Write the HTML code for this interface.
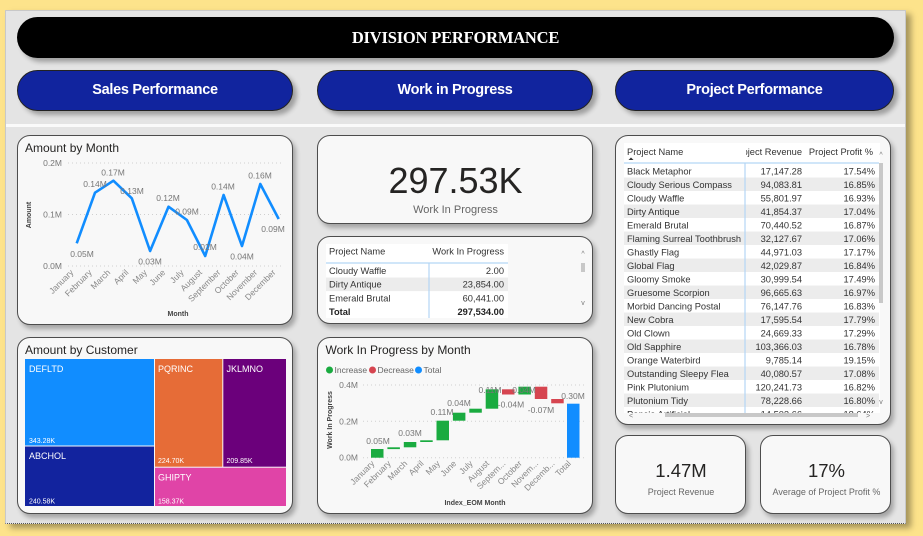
<!DOCTYPE html>
<html><head><meta charset="utf-8">
<style>
*{margin:0;padding:0;box-sizing:border-box}
body{width:923px;height:536px;background:#fde38b;position:relative;overflow:hidden;font-family:"Liberation Sans",sans-serif}
.panel{position:absolute;left:5px;top:10px;width:901px;height:514px;background:#e4e4e4;border:1px solid #c8c8c8;border-bottom:1px dotted #555;box-shadow:5px 4px 6px rgba(0,0,0,.35)}
.sep{position:absolute;left:6px;top:124px;width:899px;height:3px;background:#fafafa}
.title{position:absolute;left:17px;top:17px;width:877px;height:41px;background:#000;border-radius:21px;box-shadow:4px 4px 5px rgba(0,0,0,.3);color:#fff;font-family:"Liberation Serif",serif;font-weight:bold;font-size:16.5px;text-align:center;line-height:41px;letter-spacing:-0.2px}
.btn{position:absolute;top:70px;height:41px;background:#11249e;border:1px solid #222;border-radius:21px;box-shadow:4px 4px 5px rgba(0,0,0,.3);color:#fff;font-weight:bold;font-size:14.5px;text-align:center;line-height:39px;letter-spacing:-0.3px}
.card{position:absolute;background:#f8f8f8;border:1px solid #4d4d4d;border-radius:13px;box-shadow:3px 4px 5px rgba(0,0,0,.28)}
</style></head><body>
<div class="panel"></div>
<div class="sep"></div>
<div class="title">DIVISION PERFORMANCE</div>
<div class="btn" style="left:17px;width:276px">Sales Performance</div>
<div class="btn" style="left:317px;width:276px">Work in Progress</div>
<div class="btn" style="left:615px;width:279px">Project Performance</div>

<div class="card" style="left:17px;top:135px;width:276px;height:190px"></div>
<div class="card" style="left:17px;top:337px;width:276px;height:177px"></div>
<div class="card" style="left:317px;top:135px;width:276px;height:89px"></div>
<div class="card" style="left:317px;top:236px;width:276px;height:88px"></div>
<div class="card" style="left:317px;top:337px;width:276px;height:177px"></div>
<div class="card" style="left:615px;top:135px;width:276px;height:290px"></div>
<div class="card" style="left:615px;top:435px;width:131px;height:79px"></div>
<div class="card" style="left:760px;top:435px;width:131px;height:79px"></div>

<svg style="position:absolute;left:0;top:0" width="923" height="536" viewBox="0 0 923 536" font-family="Liberation Sans, sans-serif">
<defs>
<clipPath id="revclip"><rect x="746" y="140" width="58" height="20"/></clipPath>
<clipPath id="tblclip"><rect x="620" y="140" width="262" height="273"/></clipPath>
</defs>

<!-- Amount by Month -->
<text x="25" y="152" font-size="12" fill="#252423">Amount by Month</text>
<g stroke="#cfcfcf" stroke-dasharray="1,3" stroke-width="1">
<line x1="68" y1="163" x2="283" y2="163"/><line x1="68" y1="214.5" x2="283" y2="214.5"/><line x1="68" y1="266" x2="283" y2="266"/>
</g>
<g font-size="8.5" fill="#777" text-anchor="end">
<text x="62" y="166">0.2M</text><text x="62" y="217.5">0.1M</text><text x="62" y="269">0.0M</text>
</g>
<text transform="translate(31,215) rotate(-90)" font-size="7" font-weight="bold" fill="#444" text-anchor="middle">Amount</text>
<polyline fill="none" stroke="#118dff" stroke-width="2.6" stroke-linejoin="round" points="76.7,243.3 95,192.7 113.4,180.7 131.8,198.3 150.1,251 168.5,206.7 186.9,220 205.2,256 223.6,195 242,246 260.3,184 278.7,219"/>
<g font-size="8.5" fill="#777" text-anchor="middle">
<text x="82" y="257">0.05M</text><text x="95" y="187">0.14M</text><text x="113" y="175.5">0.17M</text><text x="132" y="194">0.13M</text>
<text x="150" y="264.5">0.03M</text><text x="168" y="201">0.12M</text><text x="187" y="214.5">0.09M</text><text x="205" y="250">0.02M</text>
<text x="223" y="189.5">0.14M</text><text x="242" y="259.5">0.04M</text><text x="260" y="178.5">0.16M</text><text x="273" y="232">0.09M</text>
</g>
<g font-size="8.5" fill="#888" text-anchor="end">
<text transform="translate(74,273) rotate(-45)">January</text>
<text transform="translate(92.4,273) rotate(-45)">February</text>
<text transform="translate(110.8,273) rotate(-45)">March</text>
<text transform="translate(129.1,273) rotate(-45)">April</text>
<text transform="translate(147.5,273) rotate(-45)">May</text>
<text transform="translate(165.9,273) rotate(-45)">June</text>
<text transform="translate(184.2,273) rotate(-45)">July</text>
<text transform="translate(202.6,273) rotate(-45)">August</text>
<text transform="translate(221,273) rotate(-45)">September</text>
<text transform="translate(239.3,273) rotate(-45)">October</text>
<text transform="translate(257.7,273) rotate(-45)">November</text>
<text transform="translate(276.1,273) rotate(-45)">December</text>
</g>
<text x="178" y="316" font-size="7" font-weight="bold" fill="#444" text-anchor="middle">Month</text>

<!-- Amount by Customer -->
<text x="25" y="354" font-size="12" fill="#252423">Amount by Customer</text>
<rect x="25" y="359" width="129" height="86.5" fill="#118dff"/>
<rect x="25" y="446.5" width="129" height="59.5" fill="#12239e"/>
<rect x="155" y="359" width="67.3" height="107.7" fill="#e66c37"/>
<rect x="223.3" y="359" width="62.7" height="107.7" fill="#6b007b"/>
<rect x="155" y="467.7" width="131" height="38.3" fill="#e044a7"/>
<g fill="#fff" font-size="9">
<text x="29" y="372">DEFLTD</text><text x="29" y="459">ABCHOL</text><text x="158" y="372">PQRINC</text><text x="226.5" y="372">JKLMNO</text><text x="158" y="480.5">GHIPTY</text>
</g>
<g fill="#fff" font-size="7">
<text x="29" y="443">343.28K</text><text x="29" y="503.5">240.58K</text><text x="158" y="463">224.70K</text><text x="226.5" y="463">209.85K</text><text x="158" y="503.5">158.37K</text>
</g>

<!-- KPI WIP -->
<text x="455.5" y="193" font-size="36" fill="#252423" text-anchor="middle">297.53K</text>
<text x="455.5" y="213" font-size="11" fill="#666" text-anchor="middle">Work In Progress</text>

<!-- WIP table -->
<rect x="326" y="244" width="182" height="74" fill="#fff"/>
<rect x="326" y="277.5" width="182" height="13.6" fill="#ececec"/>
<line x1="326" y1="263" x2="508" y2="263" stroke="#b4d6f5" stroke-width="1.2"/>
<line x1="429" y1="263" x2="429" y2="318" stroke="#b4d6f5" stroke-width="1.2"/>
<g font-size="9.3" fill="#333">
<text x="329" y="254.5">Project Name</text><text x="504" y="254.5" text-anchor="end">Work In Progress</text>
<text x="329" y="274">Cloudy Waffle</text><text x="504" y="274" text-anchor="end">2.00</text>
<text x="329" y="287.5">Dirty Antique</text><text x="504" y="287.5" text-anchor="end">23,854.00</text>
<text x="329" y="301.5">Emerald Brutal</text><text x="504" y="301.5" text-anchor="end">60,441.00</text>
<text x="329" y="315" font-weight="bold" fill="#222">Total</text><text x="504" y="315" text-anchor="end" font-weight="bold" fill="#222">297,534.00</text>
</g>
<rect x="581" y="263" width="4" height="9" fill="#c8c8c8"/>
<text x="583" y="256" font-size="7" fill="#777" text-anchor="middle">^</text>
<text x="583" y="305" font-size="7" fill="#777" text-anchor="middle">v</text>

<!-- Waterfall -->
<text x="325.5" y="354" font-size="12" fill="#252423">Work In Progress by Month</text>
<circle cx="329.5" cy="370" r="3.5" fill="#1aab40"/><text x="334.5" y="373" font-size="8.5" fill="#666">Increase</text>
<circle cx="372.5" cy="370" r="3.5" fill="#d64550"/><text x="377.5" y="373" font-size="8.5" fill="#666">Decrease</text>
<circle cx="418.5" cy="370" r="3.5" fill="#118dff"/><text x="423.5" y="373" font-size="8.5" fill="#666">Total</text>
<g stroke="#cfcfcf" stroke-dasharray="1,3" stroke-width="1">
<line x1="363" y1="385" x2="587" y2="385"/><line x1="363" y1="421.3" x2="587" y2="421.3"/><line x1="363" y1="457.7" x2="587" y2="457.7"/>
</g>
<g font-size="8.5" fill="#777" text-anchor="end">
<text x="358" y="388">0.4M</text><text x="358" y="424.3">0.2M</text><text x="358" y="460.7">0.0M</text>
</g>
<text transform="translate(332,420) rotate(-90)" font-size="7" font-weight="bold" fill="#444" text-anchor="middle">Work In Progress</text>
<g fill="#1aab40">
<rect x="371" y="449" width="12.5" height="8.7"/>
<rect x="387.4" y="447.3" width="12.5" height="1.8"/>
<rect x="403.8" y="442" width="12.5" height="5.3"/>
<rect x="420.2" y="440.3" width="12.5" height="1.7"/>
<rect x="436.5" y="420.7" width="12.5" height="19.6"/>
<rect x="452.9" y="412.7" width="12.5" height="8"/>
<rect x="469.3" y="408.7" width="12.5" height="4"/>
<rect x="485.7" y="389.3" width="12.5" height="19.4"/>
<rect x="518.4" y="386.7" width="12.5" height="7.8"/>
</g>
<g fill="#d64550">
<rect x="502" y="389.3" width="12.5" height="5.2"/>
<rect x="534.8" y="386.7" width="12.5" height="12.3"/>
<rect x="551.2" y="399" width="12.5" height="4.3"/>
</g>
<rect x="567" y="403.7" width="12.5" height="54" fill="#118dff"/>
<g font-size="8.5" fill="#777" text-anchor="middle">
<text x="378" y="444">0.05M</text><text x="410" y="436">0.03M</text><text x="442" y="415">0.11M</text><text x="459" y="406">0.04M</text>
<text x="490" y="393">0.11M</text><text x="511" y="407.5">-0.04M</text><text x="524" y="393">0.04M</text><text x="541" y="413">-0.07M</text><text x="573" y="399">0.30M</text>
</g>
<g font-size="8.5" fill="#888" text-anchor="end">
<text transform="translate(375,464) rotate(-45)">January</text>
<text transform="translate(391.4,464) rotate(-45)">February</text>
<text transform="translate(407.8,464) rotate(-45)">March</text>
<text transform="translate(424.2,464) rotate(-45)">April</text>
<text transform="translate(440.5,464) rotate(-45)">May</text>
<text transform="translate(456.9,464) rotate(-45)">June</text>
<text transform="translate(473.3,464) rotate(-45)">July</text>
<text transform="translate(489.7,464) rotate(-45)">August</text>
<text transform="translate(506,464) rotate(-45)">Septem...</text>
<text transform="translate(522.4,464) rotate(-45)">October</text>
<text transform="translate(538.8,464) rotate(-45)">Novem...</text>
<text transform="translate(555.2,464) rotate(-45)">Decemb...</text>
<text transform="translate(571.5,464) rotate(-45)">Total</text>
</g>
<text x="475" y="505" font-size="7" font-weight="bold" fill="#444" text-anchor="middle">Index_EOM Month</text>

<!-- Project table -->
<rect x="624" y="143" width="256" height="270" fill="#fff"/>
<g fill="#ececec">
<rect x="624" y="177.5" width="255" height="13.5"/>
<rect x="624" y="204.5" width="255" height="13.5"/>
<rect x="624" y="231.5" width="255" height="13.5"/>
<rect x="624" y="258.5" width="255" height="13.5"/>
<rect x="624" y="285.5" width="255" height="13.5"/>
<rect x="624" y="312.5" width="255" height="13.5"/>
<rect x="624" y="339.5" width="255" height="13.5"/>
<rect x="624" y="366.5" width="255" height="13.5"/>
<rect x="624" y="393.5" width="255" height="13.5"/>
</g>
<line x1="624" y1="163" x2="879" y2="163" stroke="#b4d6f5" stroke-width="1.2"/>
<line x1="745" y1="163" x2="745" y2="413" stroke="#b4d6f5" stroke-width="1.2"/>
<g font-size="9.3" fill="#333">
<text x="627" y="155">Project Name</text>
<text x="802" y="155" text-anchor="end" clip-path="url(#revclip)">Project Revenue</text>
<text x="873" y="155" text-anchor="end">Project Profit %</text>
</g>
<path d="M628.5,160 L631,157.5 L633.5,160 Z" fill="#333"/>
<g font-size="9.3" fill="#333" clip-path="url(#tblclip)">
<text x="627" y="174.5">Black Metaphor</text><text x="802" y="174.5" text-anchor="end">17,147.28</text><text x="875" y="174.5" text-anchor="end">17.54%</text>
<text x="627" y="188">Cloudy Serious Compass</text><text x="802" y="188" text-anchor="end">94,083.81</text><text x="875" y="188" text-anchor="end">16.85%</text>
<text x="627" y="201.5">Cloudy Waffle</text><text x="802" y="201.5" text-anchor="end">55,801.97</text><text x="875" y="201.5" text-anchor="end">16.93%</text>
<text x="627" y="215">Dirty Antique</text><text x="802" y="215" text-anchor="end">41,854.37</text><text x="875" y="215" text-anchor="end">17.04%</text>
<text x="627" y="228.5">Emerald Brutal</text><text x="802" y="228.5" text-anchor="end">70,440.52</text><text x="875" y="228.5" text-anchor="end">16.87%</text>
<text x="627" y="242">Flaming Surreal Toothbrush</text><text x="802" y="242" text-anchor="end">32,127.67</text><text x="875" y="242" text-anchor="end">17.06%</text>
<text x="627" y="255.5">Ghastly Flag</text><text x="802" y="255.5" text-anchor="end">44,971.03</text><text x="875" y="255.5" text-anchor="end">17.17%</text>
<text x="627" y="269">Global Flag</text><text x="802" y="269" text-anchor="end">42,029.87</text><text x="875" y="269" text-anchor="end">16.84%</text>
<text x="627" y="282.5">Gloomy Smoke</text><text x="802" y="282.5" text-anchor="end">30,999.54</text><text x="875" y="282.5" text-anchor="end">17.49%</text>
<text x="627" y="296">Gruesome Scorpion</text><text x="802" y="296" text-anchor="end">96,665.63</text><text x="875" y="296" text-anchor="end">16.97%</text>
<text x="627" y="309.5">Morbid Dancing Postal</text><text x="802" y="309.5" text-anchor="end">76,147.76</text><text x="875" y="309.5" text-anchor="end">16.83%</text>
<text x="627" y="323">New Cobra</text><text x="802" y="323" text-anchor="end">17,595.54</text><text x="875" y="323" text-anchor="end">17.79%</text>
<text x="627" y="336.5">Old Clown</text><text x="802" y="336.5" text-anchor="end">24,669.33</text><text x="875" y="336.5" text-anchor="end">17.29%</text>
<text x="627" y="350">Old Sapphire</text><text x="802" y="350" text-anchor="end">103,366.03</text><text x="875" y="350" text-anchor="end">16.78%</text>
<text x="627" y="363.5">Orange Waterbird</text><text x="802" y="363.5" text-anchor="end">9,785.14</text><text x="875" y="363.5" text-anchor="end">19.15%</text>
<text x="627" y="377">Outstanding Sleepy Flea</text><text x="802" y="377" text-anchor="end">40,080.57</text><text x="875" y="377" text-anchor="end">17.08%</text>
<text x="627" y="390.5">Pink Plutonium</text><text x="802" y="390.5" text-anchor="end">120,241.73</text><text x="875" y="390.5" text-anchor="end">16.82%</text>
<text x="627" y="404">Plutonium Tidy</text><text x="802" y="404" text-anchor="end">78,228.66</text><text x="875" y="404" text-anchor="end">16.80%</text>
<text x="627" y="417.5">Poncio Artificial</text><text x="802" y="417.5" text-anchor="end">14,502.66</text><text x="875" y="417.5" text-anchor="end">18.64%</text>
</g>
<rect x="879" y="163" width="4" height="140" fill="#c8c8c8"/>
<text x="881" y="157" font-size="7" fill="#777" text-anchor="middle">^</text>
<text x="881" y="404" font-size="7" fill="#777" text-anchor="middle">v</text>
<rect x="665" y="413" width="193" height="4" fill="#c8c8c8"/>
<text x="631" y="418" font-size="7" fill="#777" text-anchor="middle">&lt;</text>
<text x="868" y="418" font-size="7" fill="#777" text-anchor="middle">&gt;</text>

<!-- bottom KPIs -->
<text x="681" y="477" font-size="18.5" fill="#252423" text-anchor="middle">1.47M</text>
<text x="681" y="495" font-size="9" fill="#666" text-anchor="middle">Project Revenue</text>
<text x="826.5" y="477" font-size="18.5" fill="#252423" text-anchor="middle">17%</text>
<text x="826.5" y="495" font-size="9" fill="#666" text-anchor="middle">Average of Project Profit %</text>
</svg>
</body></html>
